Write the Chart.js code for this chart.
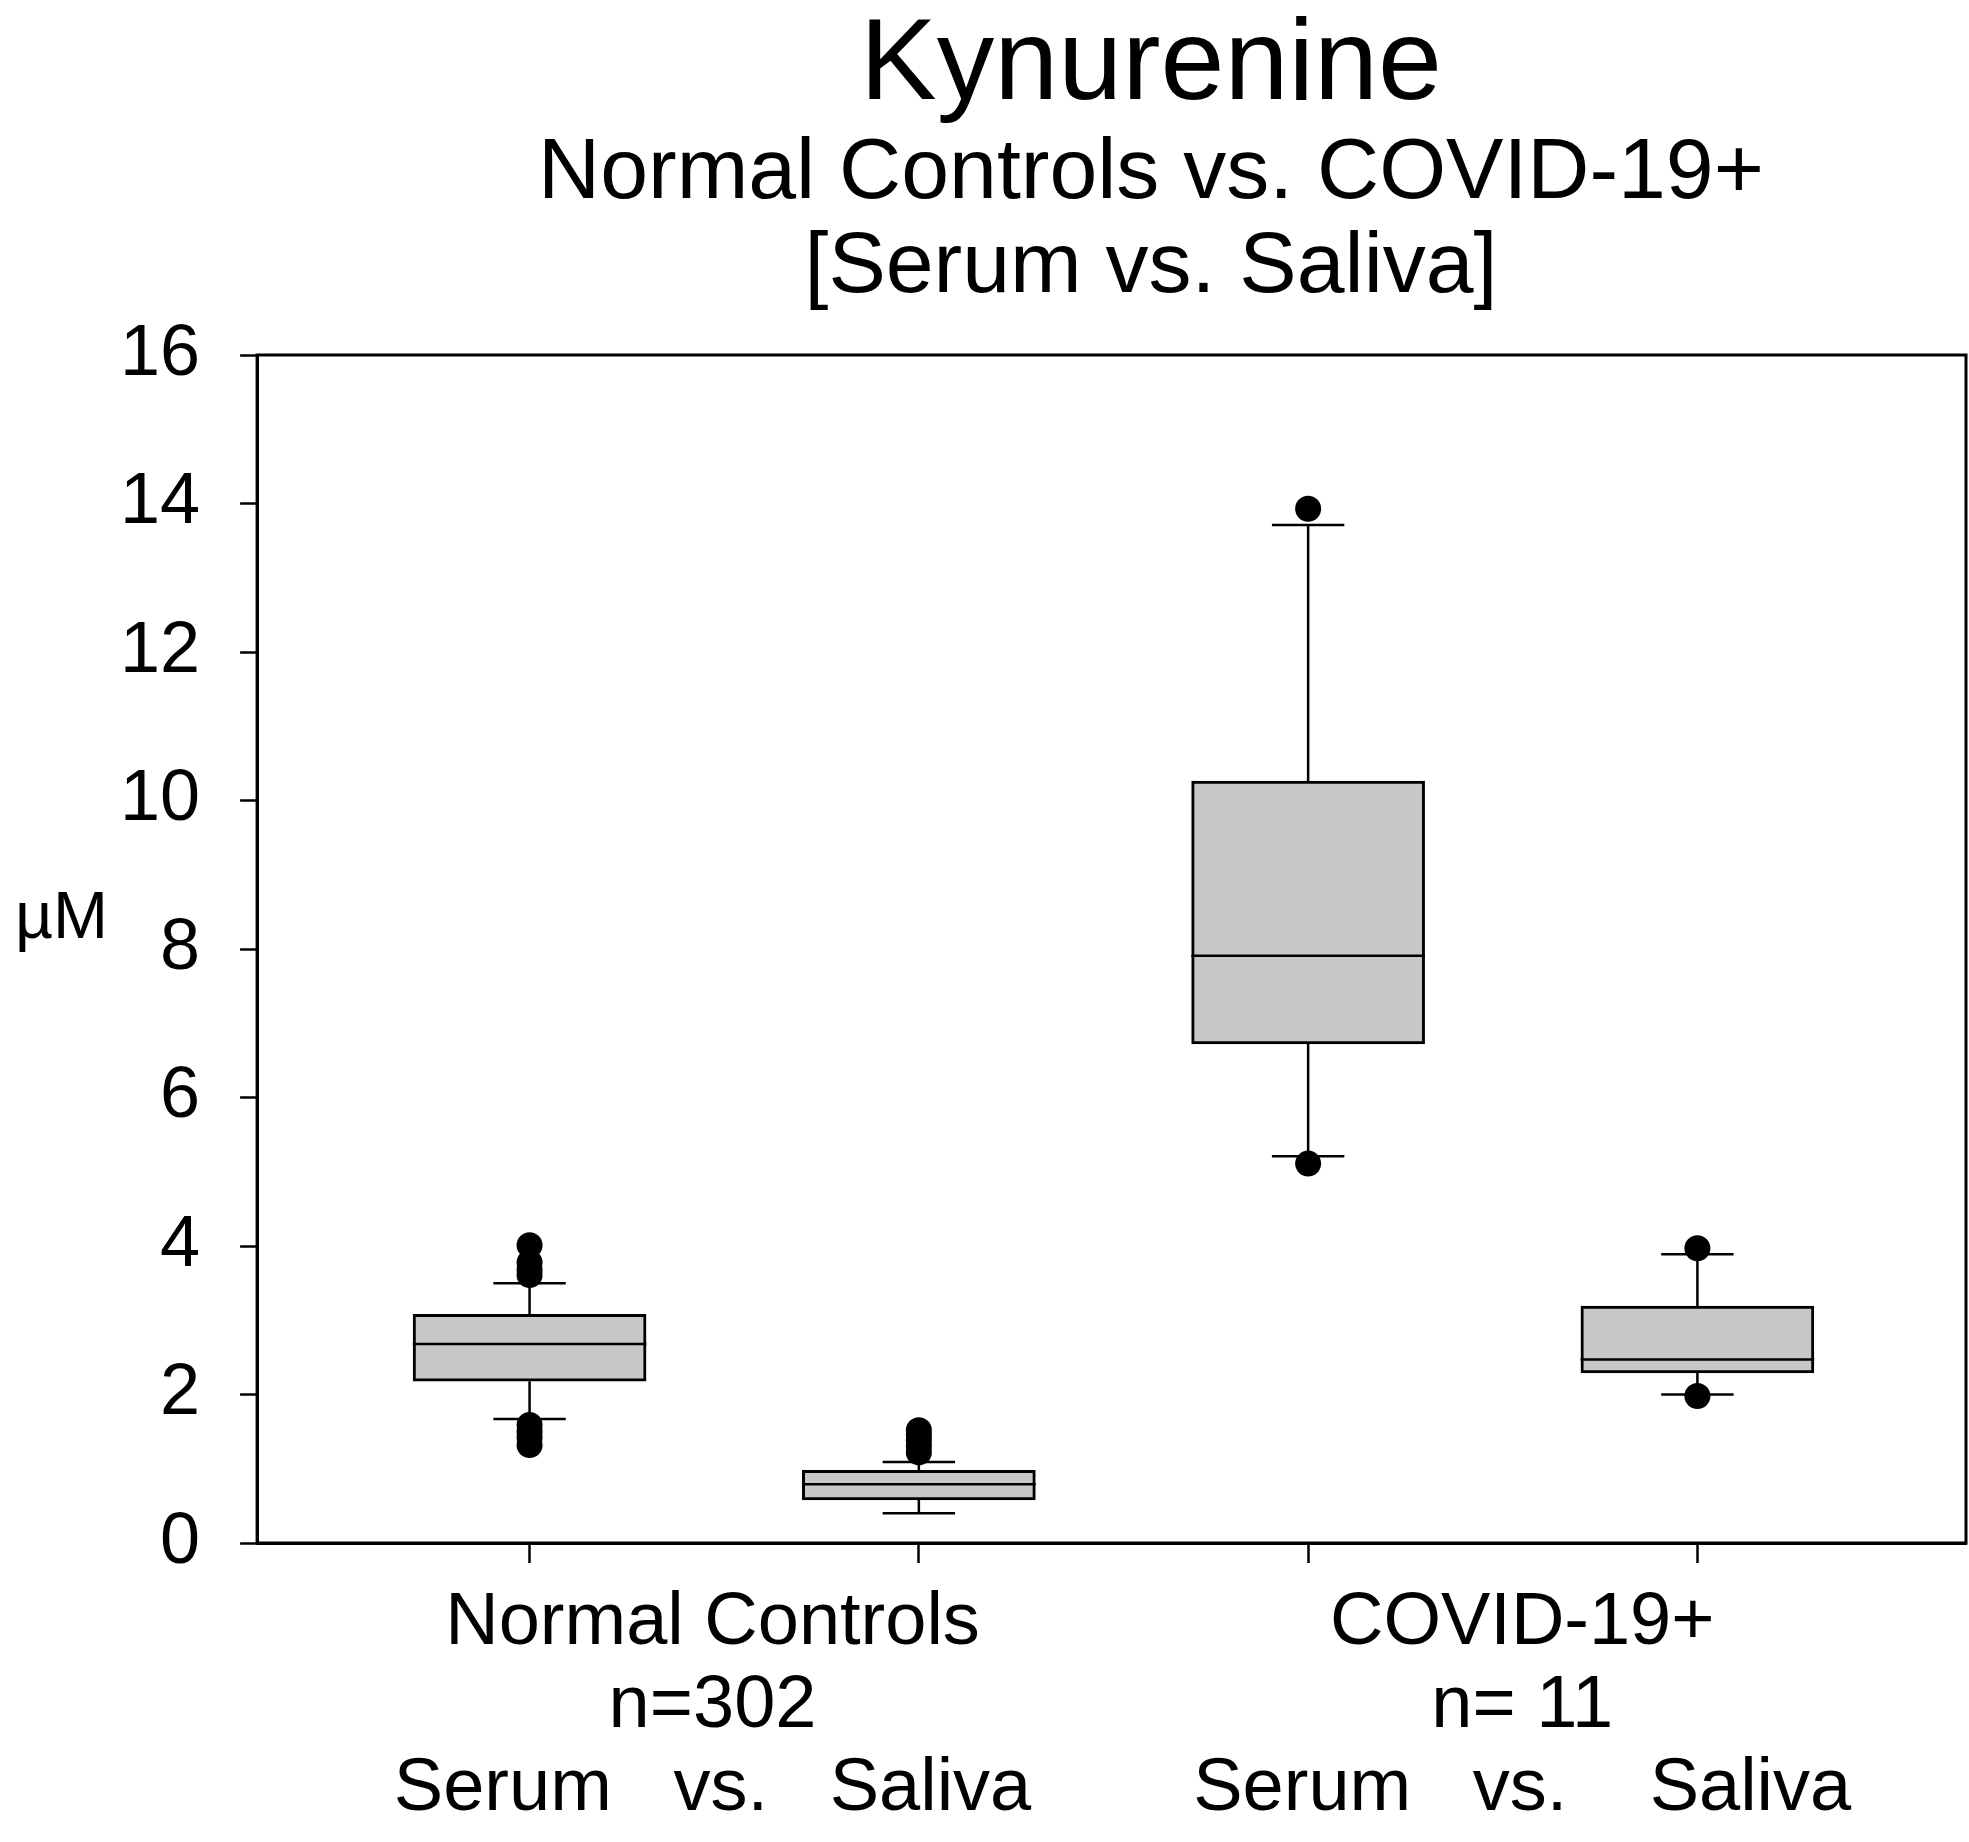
<!DOCTYPE html>
<html>
<head>
<meta charset="utf-8">
<script src="https://cdn.jsdelivr.net/npm/chart.js@4.4.0/dist/chart.umd.min.js"></script>
<style>
  html, body { margin: 0; padding: 0; background: #fff; overflow: hidden; }
  #wrap { width: 1969px; height: 1842px; }
  canvas { display: block; }
</style>
</head>
<body>
<div id="wrap"><canvas id="kyn"></canvas></div>
<script>
// x positions of the four boxes: serum/saliva for controls, serum/saliva for COVID-19+
const positions = [0, 1, 2, 3];
const groupLabels = [
    ['Normal Controls', 'n=302', 'Serum   vs.   Saliva'],
    ['COVID-19+', 'n= 11', 'Serum   vs.    Saliva']
];

// box plot values (µM)
const q1 = [2.18, 0.58, 6.72, 2.29];
const median = [2.68, 0.79, 7.91, 2.47];
const q3 = [3.08, 0.98, 10.26, 3.19];
const whiskerLow = [1.67, 0.40, 5.21, 2.00];
const whiskerHigh = [3.50, 1.09, 13.71, 3.89];
const outliers = [
    [4.01, 3.78, 3.68, 3.61, 1.59, 1.50, 1.42, 1.32],
    [1.52, 1.45, 1.38, 1.30, 1.22],
    [13.93, 5.11],
    [3.97, 1.98]
];

const yTicks = [0, 2, 4, 6, 8, 10, 12, 14, 16];

const FONT = '"Liberation Sans", Arial, sans-serif';
const capHalf = 0.093;
const boxHalf = 0.3;

// whiskers + caps as broken line segments
const whiskerPts = [];
positions.forEach((x, i) => {
    whiskerPts.push({x: x, y: q3[i]}, {x: x, y: whiskerHigh[i]}, {x: x, y: null});
    whiskerPts.push({x: x, y: q1[i]}, {x: x, y: whiskerLow[i]}, {x: x, y: null});
    whiskerPts.push({x: x - capHalf, y: whiskerHigh[i]}, {x: x + capHalf, y: whiskerHigh[i]}, {x: x, y: null});
    whiskerPts.push({x: x - capHalf, y: whiskerLow[i]}, {x: x + capHalf, y: whiskerLow[i]}, {x: x, y: null});
});

const medianPts = [];
positions.forEach((x, i) => {
    medianPts.push({x: x - boxHalf, y: median[i]}, {x: x + boxHalf, y: median[i]}, {x: x, y: null});
});

const outlierPts = [];
positions.forEach((x, i) => {
    outliers[i].forEach(v => outlierPts.push({x: x, y: v}));
});

// title lines, the upright unit label and the frame round the plot
const decorations = {
    id: 'decorations',
    afterDraw(chart) {
        const ctx = chart.ctx;
        const area = chart.chartArea;
        ctx.save();
        ctx.strokeStyle = '#000';
        ctx.lineWidth = 3;
        ctx.strokeRect(area.left, area.top, area.right - area.left, area.bottom - area.top);

        ctx.fillStyle = '#000';
        ctx.textAlign = 'center';
        ctx.textBaseline = 'alphabetic';
        const cx = 1151;
        ctx.font = '115px ' + FONT;
        ctx.fillText('Kynurenine', cx, 99);
        ctx.font = '86px ' + FONT;
        ctx.fillText('Normal Controls vs. COVID-19+', cx, 198);
        ctx.fillText('[Serum vs. Saliva]', cx, 292);

        ctx.textAlign = 'left';
        ctx.font = '66px ' + FONT;
        ctx.fillText('µM', 15, 938);
        ctx.restore();
    }
};

new Chart(document.getElementById('kyn'), {
    type: 'bar',
    data: {
        datasets: [
            {
                type: 'line',
                data: outlierPts,
                showLine: false,
                pointRadius: 13,
                pointHoverRadius: 13,
                pointBackgroundColor: '#000',
                pointBorderColor: '#000',
                pointBorderWidth: 0
            },
            {
                type: 'line',
                data: medianPts,
                borderColor: '#000',
                borderWidth: 2.5,
                pointRadius: 0,
                spanGaps: false
            },
            {
                type: 'line',
                data: whiskerPts,
                borderColor: '#000',
                borderWidth: 2.5,
                pointRadius: 0,
                spanGaps: false
            },
            {
                type: 'bar',
                data: positions.map((x, i) => ({x: x, y: [q1[i], q3[i]]})),
                backgroundColor: '#c8c8c8',
                borderColor: '#000',
                borderWidth: 3,
                borderSkipped: false,
                barThickness: 233
            }
        ]
    },
    options: {
        responsive: true,
        maintainAspectRatio: false,
        animation: false,
        layout: { autoPadding: false, padding: { left: 80, right: 3, top: 355, bottom: 0 } },
        plugins: {
            legend: { display: false },
            tooltip: { enabled: false },
            title: { display: false }
        },
        scales: {
            x: {
                type: 'linear',
                min: -0.7,
                max: 3.69,
                offset: false,
                afterBuildTicks: axis => {
                    axis.ticks = [0, 0.47, 1, 2, 2.55, 3].map(v => ({value: v}));
                },
                afterFit: axis => {
                    axis.paddingLeft = 0;
                    axis.paddingRight = 0;
                    axis.height = 299;
                },
                border: { display: true, color: '#000', width: 3 },
                grid: {
                    offset: false,
                    drawOnChartArea: false,
                    drawTicks: true,
                    tickLength: 20,
                    tickWidth: 2.5,
                    tickColor: c => (c.tick && Number.isInteger(c.tick.value)) ? '#000' : 'rgba(0,0,0,0)'
                },
                ticks: {
                    autoSkip: false,
                    maxRotation: 0,
                    padding: 19,
                    color: '#000',
                    font: { family: FONT, size: 74, lineHeight: 83 / 74 },
                    callback: v => {
                        if (v === 0.47) return groupLabels[0];
                        if (v === 2.55) return groupLabels[1];
                        return '';
                    }
                }
            },
            y: {
                min: 0,
                max: 16,
                afterBuildTicks: axis => {
                    axis.ticks = yTicks.map(v => ({value: v}));
                },
                border: { display: true, color: '#000', width: 3 },
                grid: {
                    drawOnChartArea: false,
                    drawTicks: true,
                    tickLength: 17,
                    tickWidth: 2.5,
                    tickColor: '#000'
                },
                ticks: {
                    padding: 40,
                    color: '#000',
                    font: { family: FONT, size: 72 }
                }
            }
        }
    },
    plugins: [decorations]
});
</script>
</body>
</html>
